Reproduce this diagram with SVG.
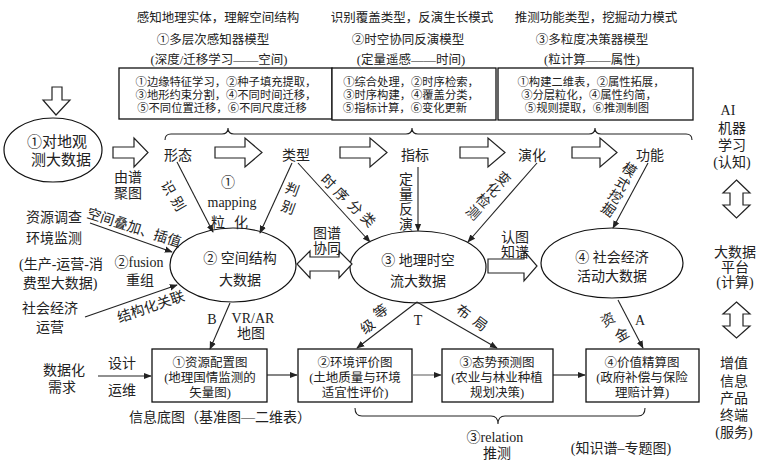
<svg xmlns="http://www.w3.org/2000/svg" width="765" height="476" viewBox="0 0 765 476">
<style>
text{font-family:"Liberation Serif","Noto Sans CJK SC",serif;fill:#222;dominant-baseline:central;text-anchor:middle}
.s11{font-size:11.3px}.s12{font-size:12.5px}.s14{font-size:14px}.s15{font-size:15px}
.box{fill:#fff;stroke:#111;stroke-width:1.3}
.ell{fill:#fff;stroke:#111;stroke-width:1.2}
.ln{fill:none;stroke:#222;stroke-width:1.1}
.ha{fill:#fff;stroke:#222;stroke-width:1.2;stroke-linejoin:miter}
</style>
<defs>
<marker id="ah" viewBox="0 0 10 10" refX="9" refY="5" markerWidth="8" markerHeight="8" orient="auto" markerUnits="userSpaceOnUse"><path d="M0,1 L10,5 L0,9 Z" fill="#222"/></marker>
</defs>
<rect width="765" height="476" fill="#fff"/>

<g id="headings">
<text class="s12" x="218" y="18">感知地理实体，理解空间结构</text>
<text class="s12" x="213" y="40">①多层次感知器模型</text>
<text class="s12" x="219" y="60">(深度/迁移学习——空间)</text>
<text class="s12" x="412" y="18">识别覆盖类型，反演生长模式</text>
<text class="s12" x="408" y="40">②时空协同反演模型</text>
<text class="s12" x="411" y="60">(定量遥感——时间)</text>
<text class="s12" x="596" y="18">推测功能类型，挖掘动力模式</text>
<text class="s12" x="592" y="40">③多粒度决策器模型</text>
<text class="s12" x="592" y="60">(粒计算——属性)</text>
</g>

<g id="method-boxes">
<rect class="box" x="119" y="68" width="213" height="51"/>
<rect class="box" x="332" y="68" width="164" height="52"/>
<rect class="box" x="498" y="68" width="195" height="52"/>
<text class="s11" x="226" y="82">①边缘特征学习，②种子填充提取，</text>
<text class="s11" x="226" y="95">③地形约束分割，④不同时间迁移，</text>
<text class="s11" x="222" y="108">⑤不同位置迁移，⑥不同尺度迁移</text>
<text class="s11" x="411" y="82">①综合处理，②时序检索，</text>
<text class="s11" x="411" y="95">③时序构建，④覆盖分类，</text>
<text class="s11" x="405" y="108">⑤指标计算，⑥变化更新</text>
<text class="s11" x="591" y="82">①构建二维表，②属性拓展，</text>
<text class="s11" x="589" y="95">③分层粒化，④属性约简，</text>
<text class="s11" x="587" y="108">⑤规则提取，⑥推测制图</text>
</g>

<g id="top-brace">
<path class="ln" d="M165,140 Q165,134 171,134 L222,134 Q228,134 228,128 Q228,134 234,134 L406,134 Q412,134 412,128 Q412,134 418,134 L589,134 Q595,134 595,128 Q595,134 601,134 L686,134 Q692,134 692,140"/>
</g>

<g id="stages">
<text class="s14" x="178" y="155">形态</text>
<text class="s14" x="296" y="155">类型</text>
<text class="s14" x="415" y="155">指标</text>
<text class="s14" x="532" y="155">演化</text>
<text class="s14" x="650" y="155">功能</text>
</g>

<g id="node-earth-obs">
<ellipse class="ell" cx="53" cy="150" rx="49" ry="32"/>
<text class="s15" x="57" y="142">①对地观</text>
<text class="s15" x="61" y="160">测大数据</text>
</g>

<g id="node-spatial">
<ellipse class="ell" cx="233" cy="265" rx="63" ry="37"/>
<text class="s14" x="240" y="258">② 空间结构</text>
<text class="s14" x="240" y="280">大数据</text>
</g>

<g id="node-geo">
<ellipse class="ell" cx="418" cy="267" rx="68" ry="36"/>
<text class="s14" x="418" y="260">③ 地理时空</text>
<text class="s14" x="418" y="281">流大数据</text>
</g>

<g id="node-socio">
<ellipse class="ell" cx="612" cy="263" rx="71" ry="35"/>
<text class="s14" x="612" y="257">④ 社会经济</text>
<text class="s14" x="612" y="276">活动大数据</text>
</g>

<g id="node-map1">
<rect class="box" x="152" y="349" width="115" height="53"/>
<text class="s12" x="210" y="363">①资源配置图</text>
<text class="s12" x="210" y="378">(地理国情监测的</text>
<text class="s12" x="210" y="393">矢量图)</text>
</g>
<g id="node-map2">
<rect class="box" x="298" y="349" width="114" height="53"/>
<text class="s12" x="355" y="363">②环境评价图</text>
<text class="s12" x="355" y="378">(土地质量与环境</text>
<text class="s12" x="355" y="393">适宜性评价)</text>
</g>
<g id="node-map3">
<rect class="box" x="442" y="349" width="111" height="53"/>
<text class="s12" x="497" y="363">③态势预测图</text>
<text class="s12" x="497" y="378">(农业与林业种植</text>
<text class="s12" x="497" y="393">规划决策)</text>
</g>
<g id="node-map4">
<rect class="box" x="586" y="349" width="113" height="53"/>
<text class="s12" x="642" y="363">④价值精算图</text>
<text class="s12" x="642" y="378">(政府补偿与保险</text>
<text class="s12" x="642" y="393">理赔计算)</text>
</g>

<g id="connectors">
<polygon class="ha" points="52,87 62,87 62,100 70,100 56,115 43,100 52,100"/>
<polygon class="ha" points="113,147 134,147 134,138 148,152.5 134,167 134,158 113,158"/>
<polygon class="ha" points="215,147 245,147 245,138 262,152.5 245,167 245,158 215,158"/>
<polygon class="ha" points="340,147 370,147 370,138 387,152.5 370,167 370,158 340,158"/>
<polygon class="ha" points="460,147 488,147 488,138 505,152.5 488,167 488,158 460,158"/>
<polygon class="ha" points="572,147 600,147 600,138 617,152.5 600,167 600,158 572,158"/>
<polygon class="ha" points="297,264 310,251 310,257 339,257 339,251 352,264 339,278 339,271 310,271 310,278"/>
<polygon class="ha" points="488,259 524,259 524,251 537,266 524,281 524,273 488,273"/>
<polygon class="ha" points="736.5,180 750,193 743,193 743,205 750,205 736.5,218 723,205 730,205 730,193 723,193"/>
<polygon class="ha" points="736.5,302 750,314 743,314 743,326 750,326 736.5,338 723,326 730,326 730,314 723,314"/>
<line class="ln" x1="177" y1="162" x2="213" y2="232" marker-end="url(#ah)"/>
<line class="ln" x1="292" y1="163" x2="260" y2="233" marker-end="url(#ah)"/>
<line class="ln" x1="298" y1="163" x2="370" y2="242" marker-end="url(#ah)"/>
<line class="ln" x1="418" y1="167" x2="418" y2="231" marker-end="url(#ah)"/>
<line class="ln" x1="537" y1="163" x2="468" y2="242" marker-end="url(#ah)"/>
<line class="ln" x1="648" y1="163" x2="613" y2="228" marker-end="url(#ah)"/>
<line class="ln" x1="90" y1="223" x2="172" y2="252" marker-end="url(#ah)"/>
<line class="ln" x1="85" y1="317" x2="177" y2="285" marker-end="url(#ah)"/>
<line class="ln" x1="230" y1="303" x2="210" y2="349" marker-end="url(#ah)"/>
<line class="ln" x1="417" y1="302" x2="357" y2="348" marker-end="url(#ah)"/>
<line class="ln" x1="417" y1="302" x2="497" y2="348" marker-end="url(#ah)"/>
<line class="ln" x1="618" y1="300" x2="643" y2="348" marker-end="url(#ah)"/>
<line class="ln" x1="98" y1="376" x2="151" y2="376" marker-end="url(#ah)"/>
<line class="ln" x1="267" y1="375" x2="297" y2="375" marker-end="url(#ah)"/>
<line class="ln" x1="412" y1="375" x2="441" y2="375" marker-end="url(#ah)" style="stroke:#666"/>
<line class="ln" x1="553" y1="375" x2="585" y2="375" marker-end="url(#ah)"/>
<path class="ln" d="M355,408 Q355,416 362,416 L491,416 Q498,416 498,424 Q498,416 505,416 L638,416 Q645,416 645,408"/>
</g>

<g id="labels">
<text class="s14" x="128" y="177">由谱</text>
<text class="s14" x="128" y="193">聚图</text>
<text class="s14" transform="translate(168,188) rotate(60)">识</text>
<text class="s14" transform="translate(178,204) rotate(60)">别</text>
<text class="s14" x="228" y="182">①</text>
<text class="s14" x="232" y="202">mapping</text>
<text class="s14" x="218" y="222">粒</text>
<text class="s14" x="241" y="222">化</text>
<text class="s14" transform="translate(292,190) rotate(20)">判</text>
<text class="s14" transform="translate(288,208) rotate(20)">别</text>
<text class="s14" transform="translate(328,182) rotate(45)">时</text>
<text class="s14" transform="translate(341,195) rotate(45)">序</text>
<text class="s14" transform="translate(355,208) rotate(45)">分</text>
<text class="s14" transform="translate(368,220) rotate(45)">类</text>
<text class="s14" x="406" y="179">定</text>
<text class="s14" x="406" y="194">量</text>
<text class="s14" x="406" y="209">反</text>
<text class="s14" x="406" y="224">演</text>
<text class="s14" transform="translate(503,179) rotate(42)">变</text>
<text class="s14" transform="translate(493,190) rotate(42)">化</text>
<text class="s14" transform="translate(483,201) rotate(42)">检</text>
<text class="s14" transform="translate(473,213) rotate(42)">测</text>
<text class="s14" transform="translate(629,170) rotate(35)">模</text>
<text class="s14" transform="translate(622,184) rotate(35)">式</text>
<text class="s14" transform="translate(615,197) rotate(35)">挖</text>
<text class="s14" transform="translate(608,210) rotate(35)">掘</text>
<text class="s14" x="327" y="233">图谱</text>
<text class="s14" x="327" y="248">协同</text>
<text class="s14" x="515" y="237">认图</text>
<text class="s14" x="515" y="252">知谱</text>
<text class="s14" x="54" y="217">资源调查</text>
<text class="s14" x="54" y="238">环境监测</text>
<text class="s14" transform="translate(134,228) rotate(18)">空间叠加、插值</text>
<text class="s14" x="61" y="264">(生产-运营-消</text>
<text class="s14" x="60" y="283">费型大数据)</text>
<text class="s14" x="139" y="262">②fusion</text>
<text class="s14" x="140" y="280">重组</text>
<text class="s14" x="50" y="308">社会经济</text>
<text class="s14" x="50" y="327">运营</text>
<text class="s14" transform="translate(151,307) rotate(-19)">结构化关联</text>
<text class="s14" x="212" y="319">B</text>
<text class="s14" x="253" y="318">VR/AR</text>
<text class="s14" x="251" y="333">地图</text>
<text class="s14" transform="translate(381,312) rotate(-37)">等</text>
<text class="s14" transform="translate(368,327) rotate(-37)">级</text>
<text class="s14" x="418" y="320">T</text>
<text class="s14" transform="translate(463,312) rotate(37)">布</text>
<text class="s14" transform="translate(480,324) rotate(37)">局</text>
<text class="s14" transform="translate(608,320) rotate(-30)">资</text>
<text class="s14" transform="translate(622,335) rotate(-30)">金</text>
<text class="s14" x="640" y="320">A</text>
<text class="s14" x="64" y="370">数据化</text>
<text class="s14" x="62" y="387">需求</text>
<text class="s14" x="122" y="363">设计</text>
<text class="s14" x="122" y="390">运维</text>
<text class="s14" x="220" y="417">信息底图（基准图—二维表）</text>
<text class="s14" x="495" y="437">③relation</text>
<text class="s14" x="497" y="453">推测</text>
<text class="s14" x="621" y="448">(知识谱–专题图)</text>
<text class="s14" x="728" y="110">AI</text>
<text class="s14" x="732" y="128">机器</text>
<text class="s14" x="732" y="145">学习</text>
<text class="s14" x="732" y="162">(认知)</text>
<text class="s14" x="735" y="252">大数据</text>
<text class="s14" x="735" y="267">平台</text>
<text class="s14" x="735" y="282">(计算)</text>
<text class="s14" x="734" y="363">增值</text>
<text class="s14" x="734" y="381">信息</text>
<text class="s14" x="734" y="398">产品</text>
<text class="s14" x="734" y="415">终端</text>
<text class="s14" x="734" y="432">(服务)</text>
</g>
</svg>
